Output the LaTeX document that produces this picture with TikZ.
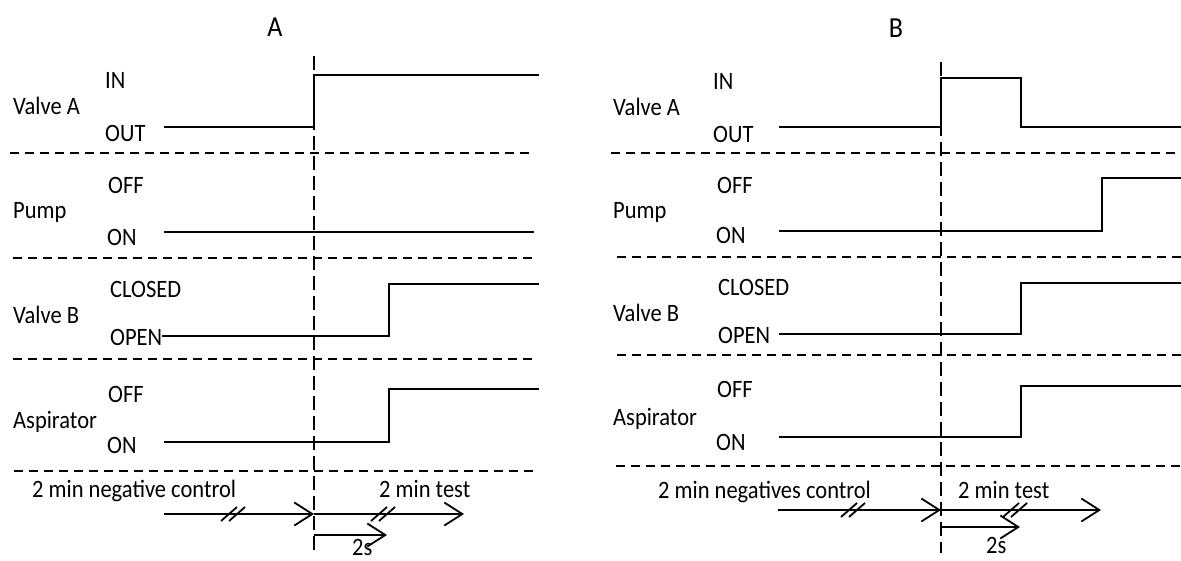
\documentclass[tikz,border=0pt]{standalone}
\usepackage{fontspec}
\setmainfont{Carlito}[FakeStretch=0.9]
\usetikzlibrary{arrows.meta}
\tikzset{
  sig/.style={line width=1.8pt, line cap=butt, line join=miter},
  hdash/.style={line width=1.6pt, dash pattern=on 9pt off 6pt},
  vdash/.style={line width=1.6pt, dash pattern=on 14pt off 6pt},
  lbl/.style={anchor=base west, inner sep=0pt, font=\fontsize{25}{29}\selectfont},
  ttl/.style={anchor=base, inner sep=0pt, font=\fontsize{29}{33}\selectfont},
  tarrow/.style={sig, -{Straight Barb[length=18pt,width=23pt,line width=1.8pt]}},
  brk/.pic={\draw[sig] (-12,7) -- (4,-7); \draw[sig] (-4,7) -- (12,-7);}
}
\begin{document}
\begin{tikzpicture}[x=1pt,y=-1pt]
\useasboundingbox (0,0) rectangle (1181,560);

% ---------------- Panel A ----------------
\node[ttl] (tA) at (275,36) {A};
\draw[vdash] (314,56) coordinate (vAt) -- (314,550) coordinate (vAb);

\node[lbl] (aVA)  at (13,114) {Valve A};
\node[lbl] (aIN)  at (105,88) {IN};
\node[lbl] (aOUT) at (105,141) {OUT};
\draw[sig] (164,127) -- (314,127) -- (314,75) -- (539,75);
\draw[hdash] (10,153) -- (530,153);

\node[lbl] (aPU)  at (13,218) {Pump};
\node[lbl] (aOFF) at (108,193) {OFF};
\node[lbl] (aON)  at (107,245) {ON};
\draw[sig] (164,232) -- (534,232);
\draw[hdash] (13,258) -- (534,258);

\node[lbl] (aVB)  at (13,323) {Valve B};
\node[lbl] (aCL)  at (110,297) {CLOSED};
\node[lbl] (aOP)  at (110,345) {OPEN};
\draw[sig] (aOP.base east |- 0,336) -- (389,336) -- (389,284) -- (539,284);
\draw[hdash] (13,359) -- (534,359);

\node[lbl] (aAS)  at (13,428) {Aspirator};
\node[lbl] (aOFF2) at (108,402) {OFF};
\node[lbl] (aON2) at (107,453) {ON};
\draw[sig] (164,442) -- (389,442) -- (389,389) -- (539,389);
\draw[hdash] (14,471) -- (534,471);

\node[lbl] (aNC) at (32,497) {2 min negative control};
\node[lbl] (aT)  at (379,497) {2 min test};
\coordinate (aS) at (164,514);
\coordinate (aM) at (314,514);
\coordinate (aE) at (464,514);
\draw[tarrow] (aS) -- (aM);
\draw[tarrow] (aM) -- (aE);
\pic at (233,514) {brk};
\pic at (383,514) {brk};
\coordinate (a2s) at (314,535);
\coordinate (a2e) at (387,535);
\draw[tarrow] (a2s) -- (a2e);
\node[lbl] (a2) at (352,555) {2s};

% ---------------- Panel B ----------------
\node[ttl] (tB) at (896,37) {B};
\draw[vdash] (941,62) coordinate (vBt) -- (941,553) coordinate (vBb);

\node[lbl] (bVA)  at (613,115) {Valve A};
\node[lbl] (bIN)  at (713,89) {IN};
\node[lbl] (bOUT) at (713,142) {OUT};
\draw[sig] (779,127) -- (941,127) -- (941,78) -- (1021,78) -- (1021,127) -- (1181,127);
\draw[hdash] (611,153) -- (1181,153);

\node[lbl] (bPU)  at (613,218) {Pump};
\node[lbl] (bOFF) at (717,193) {OFF};
\node[lbl] (bON)  at (716,243) {ON};
\draw[sig] (779,231) -- (1102,231) -- (1102,178) -- (1181,178);
\draw[hdash] (617,257) -- (1181,257);

\node[lbl] (bVB)  at (613,321) {Valve B};
\node[lbl] (bCL)  at (718,295) {CLOSED};
\node[lbl] (bOP)  at (718,343) {OPEN};
\draw[sig] (779,334) -- (1021,334) -- (1021,283) -- (1181,283);
\draw[hdash] (617,355) -- (1181,355);

\node[lbl] (bAS)  at (613,425) {Aspirator};
\node[lbl] (bOFF2) at (717,397) {OFF};
\node[lbl] (bON2) at (716,450) {ON};
\draw[sig] (779,437) -- (1021,437) -- (1021,386) -- (1181,386);
\draw[hdash] (616,466) -- (1181,466);

\node[lbl] (bNC) at (658,498) {2 min negatives control};
\node[lbl] (bT)  at (958,498) {2 min test};
\coordinate (bS) at (778,510);
\coordinate (bM) at (941,510);
\coordinate (bE) at (1101,510);
\draw[tarrow] (bS) -- (bM);
\draw[tarrow] (bM) -- (bE);
\pic at (853,510) {brk};
\pic at (1015,510) {brk};
\coordinate (b2s) at (941,527);
\coordinate (b2e) at (1020,527);
\draw[tarrow] (b2s) -- (b2e);
\node[lbl] (b2) at (986,553) {2s};
\end{tikzpicture}
\end{document}
